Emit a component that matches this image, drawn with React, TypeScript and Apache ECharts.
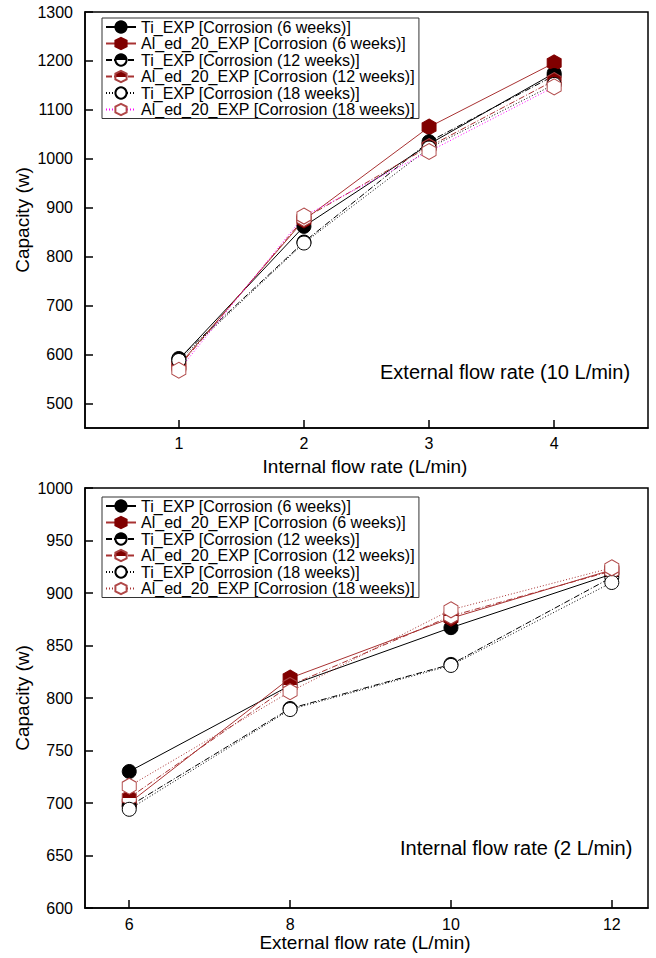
import React, { useEffect, useRef } from "react";
import * as echarts from "echarts";

// ---- Data ----
// Top panel: external flow fixed at 10 L/min, x = internal flow rate
const internalFlow = [1, 2, 3, 4];
const topTi6 = [590, 862, 1030, 1175];
const topAl6 = [578, 875, 1065, 1196];
const topTi12 = [592, 830, 1035, 1170];
const topAl12 = [575, 878, 1025, 1160];
const topTi18 = [588, 828, 1022, 1152];
const topAl18 = [568, 883, 1015, 1147];
const topYTicks = [500, 600, 700, 800, 900, 1000, 1100, 1200, 1300];

// Bottom panel: internal flow fixed at 2 L/min, x = external flow rate
const externalFlow = [6, 8, 10, 12];
const botTi6 = [730, 812, 867, 918];
const botAl6 = [700, 819, 876, 922];
const botTi12 = [697, 790, 832, 915];
const botAl12 = [705, 812, 878, 921];
const botTi18 = [694, 789, 831, 910];
const botAl18 = [716, 806, 884, 924];
const botYTicks = [600, 650, 700, 750, 800, 850, 900, 950, 1000];

const seriesNames = [
  "Ti_EXP [Corrosion (6 weeks)]",
  "Al_ed_20_EXP [Corrosion (6 weeks)]",
  "Ti_EXP [Corrosion (12 weeks)]",
  "Al_ed_20_EXP [Corrosion (12 weeks)]",
  "Ti_EXP [Corrosion (18 weeks)]",
  "Al_ed_20_EXP [Corrosion (18 weeks)]",
];

const FONT = "'Liberation Sans', Arial, sans-serif";
const HEX = "path://M0,-1 L0.866,-0.5 L0.866,0.5 L0,1 L-0.866,0.5 L-0.866,-0.5 Z";
const DARK_RED = "#800000";
const RED_LINE = "#a83232";
const DASH_DOT = [6, 2, 1, 2];
const DOT = [1, 2];

const halfFill = (c: string) =>
  new echarts.graphic.LinearGradient(0, 0, 0, 1, [
    { offset: 0, color: c },
    { offset: 0.5, color: c },
    { offset: 0.5, color: "#ffffff" },
    { offset: 1, color: "#ffffff" },
  ]);

function buildSeries(xs: number[], ys: number[][], al18Line: string) {
  const styles = [
    { symbol: "circle", size: 14, fill: "#000", border: "#000", line: "#000", type: "solid" as any },
    { symbol: HEX, size: [14, 16], fill: DARK_RED, border: DARK_RED, line: RED_LINE, type: "solid" as any },
    { symbol: "circle", size: 14, fill: halfFill("#000"), border: "#000", line: "#000", type: DASH_DOT },
    { symbol: HEX, size: [14, 16], fill: halfFill(DARK_RED), border: "#a84040", line: RED_LINE, type: DASH_DOT },
    { symbol: "circle", size: 14, fill: "#fff", border: "#000", line: "#000", type: DOT },
    { symbol: HEX, size: [14, 16], fill: "#fff", border: "#b04848", line: al18Line, type: DOT },
  ];
  return ys.map((vals, i) => {
    const s = styles[i];
    return {
      type: "line",
      name: seriesNames[i],
      data: xs.map((x, k) => [x, vals[k]]),
      symbol: s.symbol,
      symbolSize: s.size,
      symbolKeepAspect: false,
      showSymbol: true,
      itemStyle: { color: s.fill, borderColor: s.border, borderWidth: 1 },
      lineStyle: { color: s.line, width: 1, type: s.type },
      emphasis: { disabled: true },
    };
  });
}

function buildOption(p: {
  gridTop: number;
  gridHeight: number;
  xMin: number;
  xMax: number;
  xTicks: number[];
  yMin: number;
  yMax: number;
  yTicks: number[];
  series: any[];
  legendTop: number;
  xTitle: string;
  xTitleY: number;
  note: string;
  noteX: number;
  noteY: number;
  xLabelMargin: number;
}) {
  const axisLine = { show: true, lineStyle: { color: "#000", width: 1.5 } };
  const tick = { show: true, inside: true, length: 8, lineStyle: { color: "#000", width: 1.5 } };
  const label = {
    color: "#000",
    fontSize: 16,
    fontFamily: FONT,
    formatter: (v: number) => String(v),
  };
  return {
    animation: false,
    backgroundColor: "#fff",
    grid: {
      left: 85,
      right: 8,
      top: p.gridTop,
      height: p.gridHeight,
      show: true,
      borderColor: "#000",
      borderWidth: 1.5,
      backgroundColor: "transparent",
    },
    xAxis: {
      type: "value",
      min: p.xMin,
      max: p.xMax,
      axisLine,
      axisTick: { ...tick, customValues: p.xTicks },
      axisLabel: { ...label, margin: p.xLabelMargin, customValues: p.xTicks },
      splitLine: { show: false },
    },
    yAxis: {
      type: "value",
      min: p.yMin,
      max: p.yMax,
      axisLine,
      axisTick: { ...tick, customValues: p.yTicks },
      axisLabel: { ...label, margin: 12, customValues: p.yTicks },
      splitLine: { show: false },
    },
    legend: {
      orient: "vertical",
      left: 102,
      top: p.legendTop,
      padding: [1, 4, 1, 3],
      itemWidth: 30,
      itemHeight: 14,
      itemGap: 0.5,
      borderColor: "#333",
      borderWidth: 1,
      selectedMode: false,
      textStyle: { color: "#000", fontSize: 16, fontFamily: FONT, lineHeight: 16 },
      data: seriesNames,
    },
    graphic: [
      {
        type: "text",
        x: 22,
        y: p.gridTop + p.gridHeight / 2,
        rotation: Math.PI / 2,
        style: {
          text: "Capacity (w)",
          font: `19px ${FONT}`,
          fill: "#000",
          textAlign: "center",
          textVerticalAlign: "middle",
        },
      },
      {
        type: "text",
        x: 365,
        y: p.xTitleY,
        style: {
          text: p.xTitle,
          font: `19px ${FONT}`,
          fill: "#000",
          textAlign: "center",
          textVerticalAlign: "middle",
        },
      },
      {
        type: "text",
        x: p.noteX,
        y: p.noteY,
        style: {
          text: p.note,
          font: `20px ${FONT}`,
          fill: "#000",
          textAlign: "left",
          textVerticalAlign: "middle",
        },
      },
    ],
    series: p.series,
  };
}

export default function App() {
  const topRef = useRef<HTMLDivElement>(null);
  const botRef = useRef<HTMLDivElement>(null);

  useEffect(() => {
    if (!topRef.current || !botRef.current) return;
    const top = echarts.init(topRef.current, undefined, { renderer: "svg" });
    const bot = echarts.init(botRef.current, undefined, { renderer: "svg" });

    top.setOption(
      buildOption({
        gridTop: 12,
        gridHeight: 416,
        xMin: 0.25,
        xMax: 4.75,
        xTicks: internalFlow,
        yMin: 450,
        yMax: 1300,
        yTicks: topYTicks,
        series: buildSeries(
          internalFlow,
          [topTi6, topAl6, topTi12, topAl12, topTi18, topAl18],
          "#ff00ff"
        ),
        legendTop: 18,
        xTitle: "Internal flow rate (L/min)",
        xTitleY: 466,
        note: "External flow rate (10 L/min)",
        noteX: 380,
        noteY: 372,
        xLabelMargin: 7,
      })
    );

    bot.setOption(
      buildOption({
        gridTop: 9,
        gridHeight: 420,
        xMin: 5.45,
        xMax: 12.45,
        xTicks: externalFlow,
        yMin: 600,
        yMax: 1000,
        yTicks: botYTicks,
        series: buildSeries(
          externalFlow,
          [botTi6, botAl6, botTi12, botAl12, botTi18, botAl18],
          RED_LINE
        ),
        legendTop: 18,
        xTitle: "External flow rate (L/min)",
        xTitleY: 463,
        note: "Internal flow rate (2 L/min)",
        noteX: 400,
        noteY: 369,
        xLabelMargin: 8,
      })
    );

    return () => {
      top.dispose();
      bot.dispose();
    };
  }, []);

  return (
    <div style={{ position: "absolute", left: 0, top: 0, width: 656, height: 958, background: "#fff" }}>
      <div ref={topRef} style={{ position: "absolute", left: 0, top: 0, width: 656, height: 479 }} />
      <div ref={botRef} style={{ position: "absolute", left: 0, top: 479, width: 656, height: 479 }} />
    </div>
  );
}
